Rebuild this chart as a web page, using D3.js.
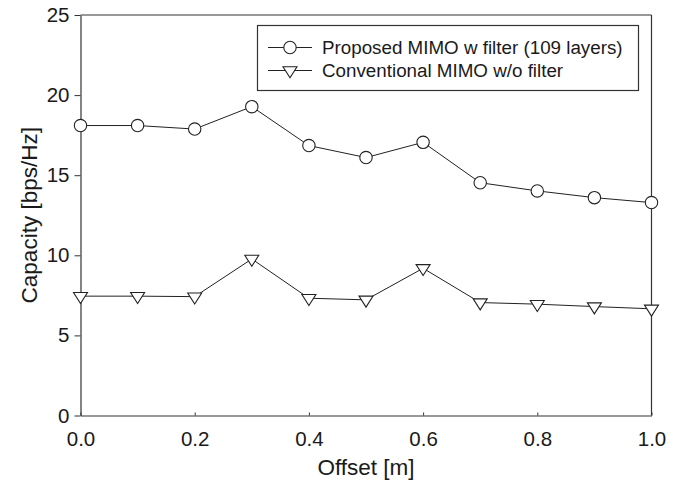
<!DOCTYPE html>
<html><head><meta charset="utf-8">
<script src="https://cdn.jsdelivr.net/npm/d3@7"></script>
<style>body{margin:0;background:#fff;} text{font-family:"Liberation Sans",Arial,sans-serif;fill:#1a1a1a;}</style>
</head><body>
<svg id="c" width="679" height="487"></svg>
<script>
const offsets = [0.0,0.1,0.2,0.3,0.4,0.5,0.6,0.7,0.8,0.9,1.0];
const proposed = [18.1,18.1,17.88,19.28,16.85,16.1,17.05,14.53,14.02,13.6,13.29];
const conventional = [7.45,7.45,7.42,9.77,7.32,7.22,9.19,7.05,6.95,6.8,6.66];
const xTicks = [0,0.2,0.4,0.6,0.8,1.0];
const yTicks = [0,5,10,15,20,25];
const seriesNames = ["Proposed MIMO w filter (109 layers)","Conventional MIMO w/o filter"];

const svg = d3.select("#c");
const L=80.5, R=651.5, T=15, B=415.5;
const x = d3.scaleLinear().domain([0,1]).range([L,R]);
const y = d3.scaleLinear().domain([0,25]).range([B,T]);
const stroke="#222";

svg.append("line").attr("x1",L).attr("x2",R).attr("y1",T).attr("y2",T).attr("stroke","#333").attr("stroke-width",1.2);
svg.append("line").attr("x1",R).attr("x2",R).attr("y1",T).attr("y2",B).attr("stroke","#333").attr("stroke-width",1.2);

const gx = svg.append("g").attr("transform",`translate(0,${B})`)
  .call(d3.axisBottom(x).tickValues(xTicks).tickFormat(d3.format(".1f")).tickSizeInner(-3).tickSizeOuter(0).tickPadding(16));
gx.select(".domain").attr("stroke","#333").attr("stroke-width",1.2);
gx.selectAll(".tick line").attr("stroke","#333");
gx.selectAll("text").attr("font-size",20.5).attr("fill","#1a1a1a");

const gy = svg.append("g").attr("transform",`translate(${L},0)`)
  .call(d3.axisLeft(y).tickValues(yTicks).tickSizeInner(6).tickSizeOuter(0).tickPadding(5));
gy.select(".domain").attr("stroke","#333").attr("stroke-width",1.2);
gy.selectAll(".tick line").attr("stroke","#333");
gy.selectAll("text").attr("font-size",20.5).attr("fill","#1a1a1a");

svg.append("text").attr("x",(L+R)/2).attr("y",475).attr("text-anchor","middle").attr("font-size",22.5).text("Offset [m]");
svg.append("text").attr("transform",`translate(37,${(T+B)/2}) rotate(-90)`).attr("text-anchor","middle").attr("font-size",22.5).text("Capacity [bps/Hz]");

const line = d3.line().x((d,i)=>x(offsets[i])).y(d=>y(d));
const tri = (cx,cy)=>`M${cx-7},${cy-3.7}L${cx+7},${cy-3.7}L${cx},${cy+7.3}Z`;

svg.append("path").attr("d",line(proposed)).attr("fill","none").attr("stroke",stroke).attr("stroke-width",1);
svg.append("path").attr("d",line(conventional)).attr("fill","none").attr("stroke",stroke).attr("stroke-width",1);

svg.selectAll("circle.p").data(proposed).enter().append("circle")
  .attr("cx",(d,i)=>x(offsets[i])).attr("cy",d=>y(d)).attr("r",6.2)
  .attr("fill","#fff").attr("stroke",stroke).attr("stroke-width",1.1);
svg.selectAll("path.t").data(conventional).enter().append("path")
  .attr("d",(d,i)=>tri(x(offsets[i]),y(d)))
  .attr("fill","#fff").attr("stroke",stroke).attr("stroke-width",1.1);

const lg = svg.append("g");
lg.append("rect").attr("x",257.5).attr("y",25.5).attr("width",381).attr("height",65).attr("fill","#fff").attr("stroke","#333").attr("stroke-width",1.2);
const rows=[47.5,70.5];
rows.forEach((ry,k)=>{
  lg.append("line").attr("x1",268).attr("x2",312).attr("y1",ry).attr("y2",ry).attr("stroke",stroke).attr("stroke-width",1);
  if(k===0) lg.append("circle").attr("cx",290).attr("cy",ry).attr("r",6.2).attr("fill","#fff").attr("stroke",stroke).attr("stroke-width",1.1);
  else lg.append("path").attr("d",tri(290,ry)).attr("fill","#fff").attr("stroke",stroke).attr("stroke-width",1.1);
  lg.append("text").attr("x",322).attr("y",ry+6.5).attr("font-size",18.8).text(seriesNames[k]);
});
</script>
</body></html>
